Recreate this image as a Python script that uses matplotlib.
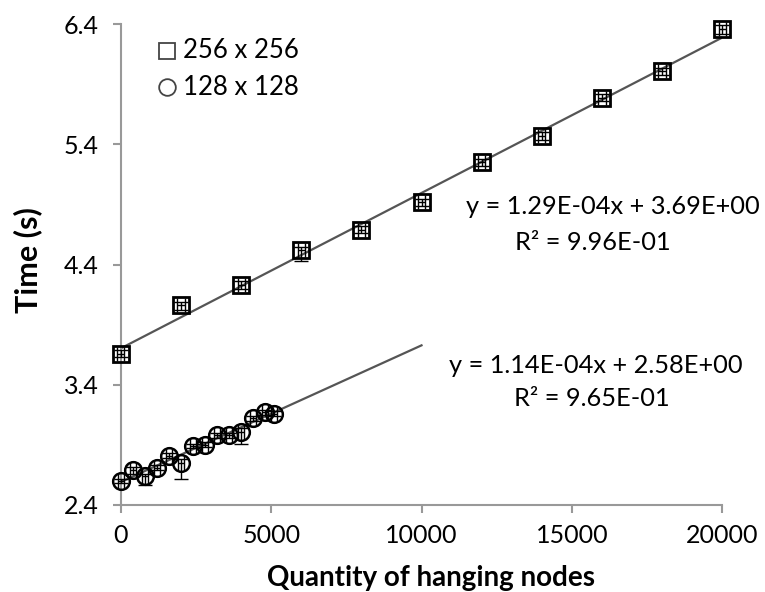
import numpy as np
import matplotlib
matplotlib.use("Agg")
import matplotlib.pyplot as plt

plt.rcParams['font.family'] = ['Lato', 'DejaVu Sans']

# 256 x 256 grid
x_256 = [0, 2000, 4000, 6000, 8000, 10000, 12000, 14000, 16000, 18000, 20000]
t_256 = [3.66, 4.06, 4.23, 4.52, 4.69, 4.92, 5.25, 5.47, 5.79, 6.01, 6.36]
err_256_lo = [0.03, 0.04, 0.03, 0.09, 0.03, 0.03, 0.03, 0.03, 0.03, 0.03, 0.04]
err_256_hi = [0.03, 0.03, 0.03, 0.03, 0.03, 0.03, 0.03, 0.03, 0.03, 0.03, 0.03]

# 128 x 128 grid
x_128 = [0, 400, 800, 1200, 1600, 2000, 2400, 2800, 3200, 3600, 4000, 4400, 4800, 5100]
t_128 = [2.60, 2.69, 2.64, 2.71, 2.81, 2.75, 2.89, 2.90, 2.98, 2.98, 3.01, 3.12, 3.17, 3.16]
err_128_lo = [0.02, 0.03, 0.07, 0.02, 0.02, 0.13, 0.02, 0.02, 0.02, 0.02, 0.10, 0.02, 0.02, 0.02]
err_128_hi = [0.02, 0.03, 0.02, 0.02, 0.02, 0.03, 0.02, 0.02, 0.02, 0.02, 0.03, 0.02, 0.02, 0.02]

eq_256 = ["y = 1.29E-04x + 3.69E+00", "R² = 9.96E-01"]
eq_128 = ["y = 1.14E-04x + 2.58E+00", "R² = 9.65E-01"]

fig = plt.figure(figsize=(7.65, 5.92), dpi=100)
ax = fig.add_axes([0.158, 0.147, 0.786, 0.812])

# trend lines
p256 = np.polyfit(x_256, t_256, 1)
xx = np.array([0, 20000])
ax.plot(xx, np.polyval(p256, xx), color='#555555', lw=1.6, zorder=2)
p128 = np.polyfit(x_128, t_128, 1)
xx = np.array([0, 10000])
ax.plot(xx, np.polyval(p128, xx), color='#555555', lw=1.6, zorder=2)

e1 = ax.errorbar(x_256, t_256, yerr=[err_256_lo, err_256_hi], xerr=120,
                 fmt='none', ecolor='black', elinewidth=1, capsize=5, zorder=3)
e2 = ax.errorbar(x_128, t_128, yerr=[err_128_lo, err_128_hi], xerr=100,
                 fmt='none', ecolor='black', elinewidth=1, capsize=5, zorder=3)
for e in (e1, e2):
    for art in e.lines[1] + e.lines[2]:
        art.set_clip_on(False)
ax.plot(x_256, t_256, 's', ms=11, mfc='none', mec='black', mew=2, zorder=4, clip_on=False)
ax.plot(x_128, t_128, 'o', ms=12, mfc='none', mec='black', mew=1.8, zorder=4, clip_on=False)

ax.set_xlim(0, 20000)
ax.set_ylim(2.4, 6.4)
ax.set_xticks([0, 5000, 10000, 15000, 20000])
ax.set_yticks([2.4, 3.4, 4.4, 5.4, 6.4])
ax.set_yticklabels(['2.4', '3.4', '4.4', '5.4', '6.4'])
for s in ['top', 'right']:
    ax.spines[s].set_visible(False)
for s in ['left', 'bottom']:
    ax.spines[s].set_color('#999999')
    ax.spines[s].set_linewidth(1.5)
ax.tick_params(colors='#999999', labelcolor='black', labelsize=18, length=6, width=1.5)
ax.tick_params(axis='x', pad=8)
ax.tick_params(axis='y', pad=10)

ax.set_xlabel('Quantity of hanging nodes', fontsize=20, fontweight='bold')
ax.set_ylabel('Time (s)', fontsize=22, fontweight='bold')
ax.xaxis.set_label_coords(0.516, -0.125)
ax.yaxis.set_label_coords(-0.131, 0.509)

# legend
ax.plot([1530], [6.18], 's', ms=12, mfc='none', mec='#444444', mew=1.3, clip_on=False)
ax.text(2050, 6.18, '256 x 256', fontsize=18.5, va='center')
ax.plot([1530], [5.875], 'o', ms=12, mfc='none', mec='#444444', mew=1.3, clip_on=False)
ax.text(2050, 5.875, '128 x 128', fontsize=18.5, va='center')

ax.text(16370, 4.88, eq_256[0], fontsize=18.3, ha='center', va='center')
ax.text(15700, 4.58, eq_256[1], fontsize=18.3, ha='center', va='center')
ax.text(15800, 3.56, eq_128[0], fontsize=18.3, ha='center', va='center')
ax.text(15670, 3.29, eq_128[1], fontsize=18.3, ha='center', va='center')

fig.savefig('out.png', dpi=100)
